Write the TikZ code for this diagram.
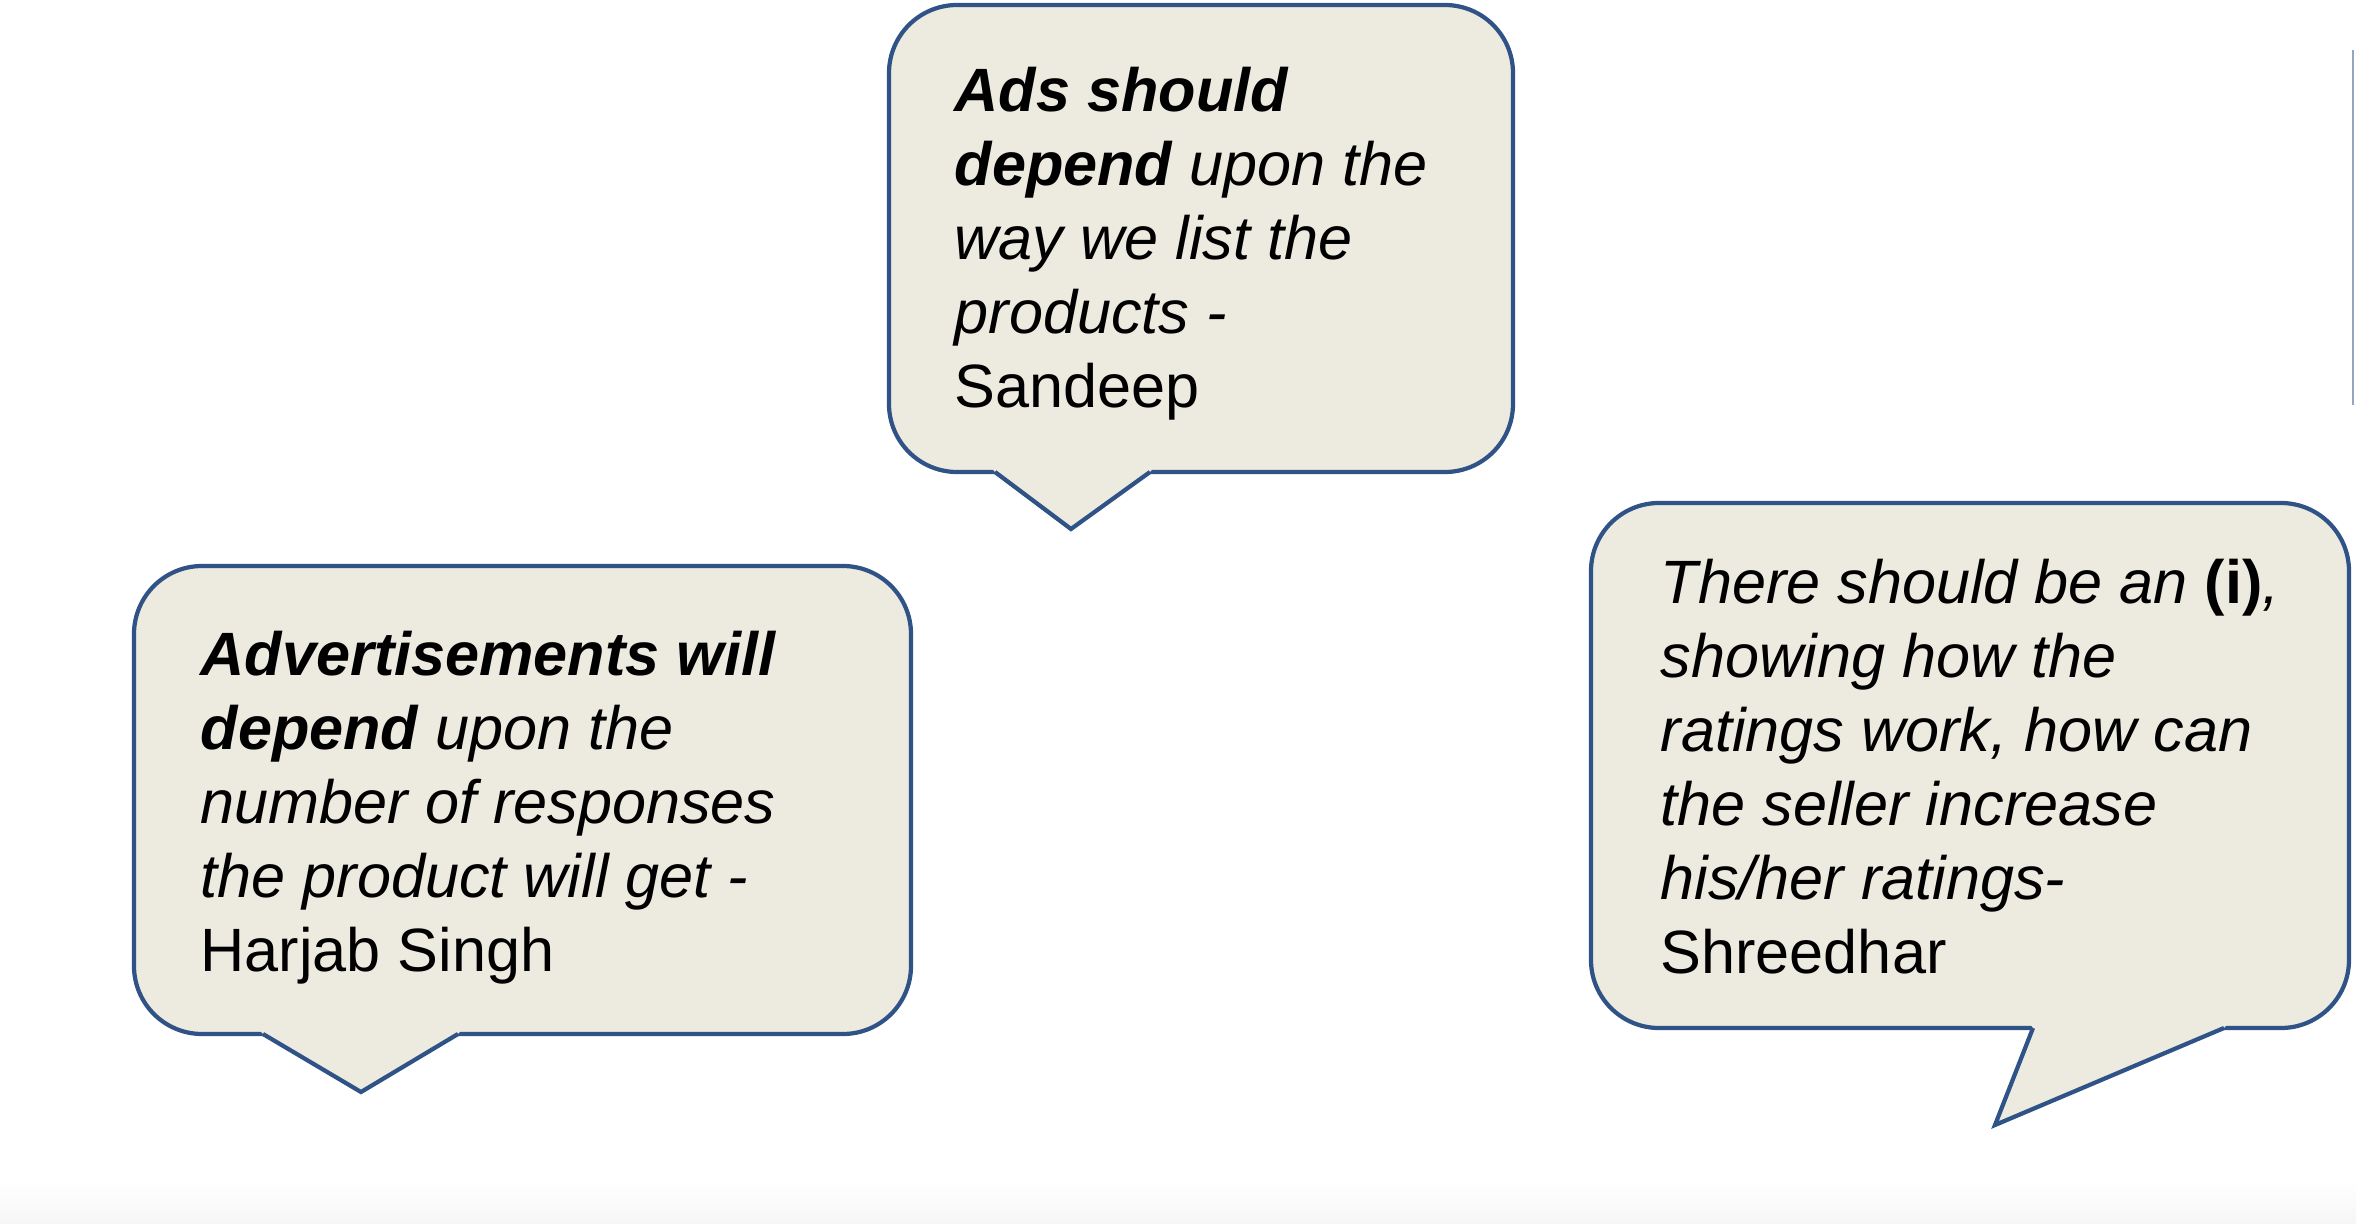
\documentclass[tikz,border=0pt]{standalone}
\usepackage{fontspec}
\setmainfont{Liberation Sans}
\usetikzlibrary{calc}
\definecolor{bubbleblue}{RGB}{47,82,135}
\definecolor{bubblefill}{RGB}{237,234,224}
\definecolor{edgegray}{RGB}{150,165,190}
\definecolor{floorgray}{RGB}{246,246,246}

\tikzset{
  bubble/.style={draw=bubbleblue, fill=bubblefill, line width=1.2pt, rounded corners=0.68cm},
  tipfill/.style={fill=bubblefill},
  tipline/.style={draw=bubbleblue, line width=1.2pt, line join=miter},
  quote/.style={anchor=base west, inner sep=0pt, align=left,
    font=\fontsize{17.4}{21}\selectfont\itshape}
}

\begin{document}
\begin{tikzpicture}[x=0.01cm, y=-0.01cm]
  \useasboundingbox (0,0) rectangle (2356,1224);

  % faint floor at the bottom
  \shade[top color=white, bottom color=floorgray] (0,1180) rectangle (2356,1224);
  % edge of a cut-off shape at the right border
  \draw[edgegray, line width=0.8pt] (2353,50) -- (2353,405);

  % Ads bubble
  \path[bubble] (889,5) rectangle (1513,472);
  \fill[tipfill] (989,465) -- (995,472) -- (1071,529) -- (1150,472) -- (1156,465) -- cycle;
  \draw[tipline] (995,472) -- (1071,529) -- (1150,472);
  \node[quote] (adsTxt) at (954,407)
    {\textbf{Ads should}\\\textbf{depend} upon the\\way we list the\\products -\\\upshape Sandeep};

  % Advertisements bubble
  \path[bubble] (134,566) rectangle (911,1034);
  \fill[tipfill] (257,1027) -- (263,1034) -- (361,1092) -- (458,1034) -- (464,1027) -- cycle;
  \draw[tipline] (263,1034) -- (361,1092) -- (458,1034);
  \node[quote] (advTxt) at (200,971)
    {\textbf{Advertisements will}\\\textbf{depend} upon the\\number of responses\\the product will get -\\\upshape Harjab Singh};

  % Ratings bubble
  \path[bubble] (1591,503) rectangle (2349,1028);
  \fill[tipfill] (2028,1021) -- (2033,1028) -- (1995,1125) -- (2224,1028) -- (2230,1021) -- cycle;
  \draw[tipline] (2033,1028) -- (1995,1125) -- (2224,1028);
  \node[quote] (infoTxt) at (1660,973)
    {There should be an {\upshape\bfseries (i)},\\showing how the\\ratings work, how can\\the seller increase\\his/her ratings-\\\upshape Shreedhar};

\end{tikzpicture}
\end{document}
